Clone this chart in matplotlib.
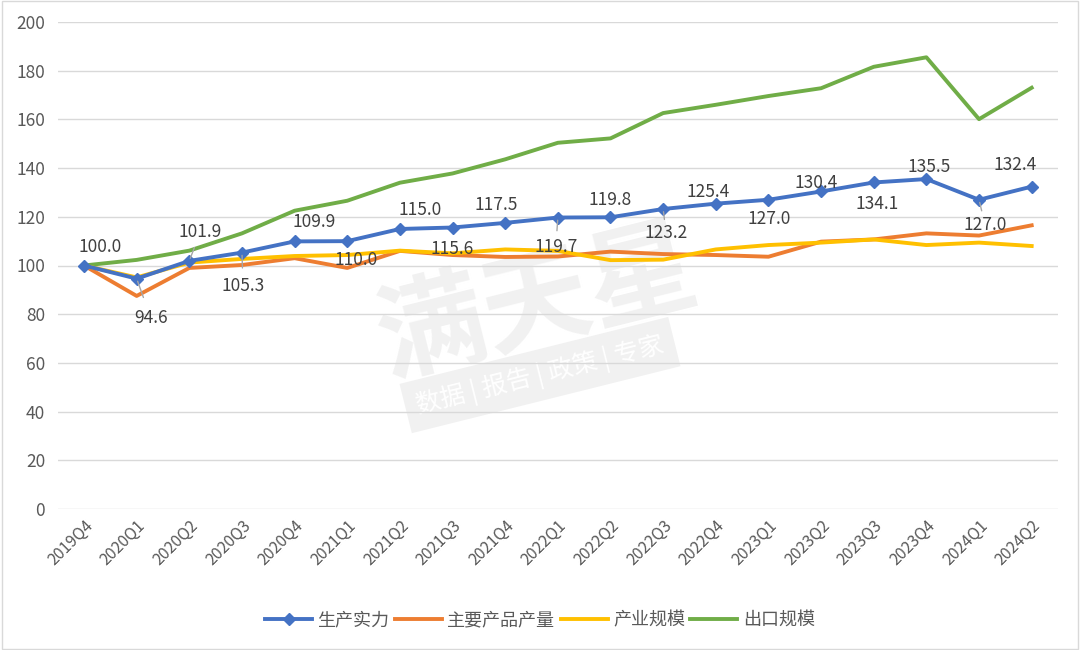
import matplotlib
matplotlib.use("Agg")
import matplotlib.pyplot as plt
from matplotlib.lines import Line2D

plt.rcParams['font.family'] = ['Noto Sans CJK SC', 'DejaVu Sans']

quarters = ["2019Q4", "2020Q1", "2020Q2", "2020Q3", "2020Q4", "2021Q1", "2021Q2",
            "2021Q3", "2021Q4", "2022Q1", "2022Q2", "2022Q3", "2022Q4", "2023Q1",
            "2023Q2", "2023Q3", "2023Q4", "2024Q1", "2024Q2"]
production = [100.0, 94.6, 101.9, 105.3, 109.9, 110.0, 115.0, 115.6, 117.5, 119.7,
              119.8, 123.2, 125.4, 127.0, 130.4, 134.1, 135.5, 127.0, 132.4]
main_output = [100.0, 87.5, 99.0, 100.2, 103.0, 99.0, 106.0, 104.3, 103.5, 103.7,
               105.7, 104.7, 104.3, 103.6, 109.8, 110.7, 113.2, 112.3, 116.5]
industry_scale = [100.0, 95.1, 101.2, 102.7, 103.9, 104.3, 106.1, 105.0, 106.6, 106.0,
                  102.2, 102.4, 106.6, 108.4, 109.4, 110.7, 108.4, 109.4, 108.0]
export_scale = [100.0, 102.3, 106.1, 113.2, 122.5, 126.6, 134.0, 137.8, 143.6, 150.4,
                152.2, 162.6, 166.0, 169.6, 172.8, 181.6, 185.5, 160.1, 173.0]
series_names = ["生产实力", "主要产品产量", "产业规模", "出口规模"]
y_ticks = [0, 20, 40, 60, 80, 100, 120, 140, 160, 180, 200]

# label offsets in pixels (dx, dy; dy positive = down) and leader-line flags (layout)
label_offsets = [(16, -19), (14, 39), (11, -29), (1, 33), (20, -19), (9, 19), (20, -19),
                 (0, 21), (-9, -18), (-2, 29), (0, -17), (3, 24), (-8, -12), (1, 19),
                 (-5, -8), (3, 22), (3, -12), (6, 25), (-17, -22)]
leaders = [False, True, True, True, False, False, False, False, False, True,
           False, True, False, False, False, False, False, True, False]

BLUE, ORANGE, YELLOW, GREEN = "#4472C4", "#ED7D31", "#FFC000", "#70AD47"
GRAY_TXT = "#595959"

fig = plt.figure(figsize=(10.8, 6.5), dpi=100)
fig.patch.set_facecolor("white")
ax = fig.add_axes([57.7 / 1080, 1 - 509 / 650, (1058 - 57.7) / 1080, (509 - 22) / 650])

# border of chart area
fig.patches.append(plt.Rectangle((0.002, 0.002), 0.996, 0.996, transform=fig.transFigure,
                                 fill=False, edgecolor="#D9D9D9", lw=1))

# watermark (behind the plot)
fig.text(0.497, 0.53, "满天星", fontsize=78, color="#F1F1F1", rotation=14,
         ha="center", va="center", fontweight="bold", zorder=-2)
fig.text(0.50, 0.423, "数据 | 报告 | 政策 | 专家", fontsize=18, color="white", rotation=14,
         ha="center", va="center", zorder=-1,
         bbox=dict(boxstyle="square,pad=0.45", fc="#F1F1F1", ec="none"))
ax.set_facecolor("none")

x = list(range(len(quarters)))
ax.plot(x, export_scale, color=GREEN, lw=2.8, solid_joinstyle="round", zorder=3)
ax.plot(x, main_output, color=ORANGE, lw=2.8, solid_joinstyle="round", zorder=3)
ax.plot(x, industry_scale, color=YELLOW, lw=2.8, solid_joinstyle="round", zorder=3)
ax.plot(x, production, color=BLUE, lw=2.8, marker="D", markersize=6,
        solid_joinstyle="round", zorder=4)

for i, v in enumerate(production):
    dx, dy = label_offsets[i]
    ax.annotate(f"{v:.1f}", xy=(i, v), xytext=(dx * 0.72, -dy * 0.72),
                textcoords="offset points", ha="center", va="center",
                fontsize=12.5, color="#404040", zorder=6)
    if leaders[i]:
        ax.annotate("", xy=(i, v), xytext=(dx * 0.72 * 0.55, -dy * 0.72 * 0.55),
                    textcoords="offset points",
                    arrowprops=dict(arrowstyle="-", color="#A6A6A6", lw=1), zorder=5)

ax.set_xlim(-0.5, len(quarters) - 0.5)
ax.set_ylim(0, 200)
ax.set_yticks(y_ticks)
ax.set_xticks(x)
ax.set_xticklabels(quarters, rotation=45, ha="right", rotation_mode="anchor",
                   fontsize=11.5, color=GRAY_TXT)
ax.tick_params(axis="y", labelsize=12.5, colors=GRAY_TXT, length=0, pad=9)
ax.tick_params(axis="x", length=0, pad=6)
ax.grid(axis="y", color="#D9D9D9", lw=1)
ax.set_axisbelow(True)
for s in ax.spines.values():
    s.set_visible(False)

handles = [Line2D([], [], color=BLUE, lw=2.8, marker="D", markersize=6),
           Line2D([], [], color=ORANGE, lw=2.8),
           Line2D([], [], color=YELLOW, lw=2.8),
           Line2D([], [], color=GREEN, lw=2.8)]
leg = fig.legend(handles, series_names, loc="center", bbox_to_anchor=(0.5, 1 - 620 / 650),
                 ncol=4, frameon=False, fontsize=13, handlelength=2.6,
                 columnspacing=0.3, handletextpad=0.3)
for t in leg.get_texts():
    t.set_color(GRAY_TXT)

fig.savefig("out.png", dpi=100, facecolor="white")
